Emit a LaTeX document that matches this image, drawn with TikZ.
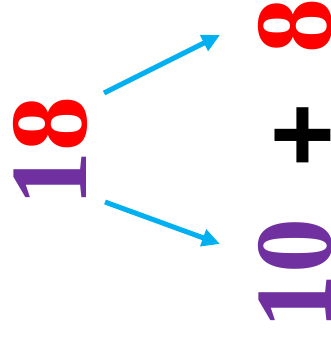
\documentclass[tikz,border=0pt]{standalone}
\usepackage{fontspec}
\setmainfont{Liberation Serif}
\newfontfamily\plusfont{Liberation Sans}
\usetikzlibrary{arrows.meta}
\definecolor{cyanarrow}{HTML}{00B0F0}
\definecolor{numred}{HTML}{FF0000}
\definecolor{numpurple}{HTML}{7030A0}
\tikzset{
  bignum/.style={rotate=90, anchor=base, inner sep=0pt, font=\fontsize{110}{110}\selectfont\bfseries},
  splitarrow/.style={draw=cyanarrow, line width=5pt, -{Triangle[length=18pt,width=17pt]}}
}
\begin{document}
\begin{tikzpicture}[x=1pt,y=1pt]
\useasboundingbox (0,0) rectangle (330,339);
\clip (0,0) rectangle (330,339);
\node[bignum] (whole) at (86,187) {\textcolor{numpurple}{1}\textcolor{numred}{8}};
\node[bignum, text=numred] (eight) at (331,313) {8};
\node[bignum, anchor=center, text=black, font=\fontsize{110}{110}\selectfont\plusfont\bfseries] (plus) at (307.5,204) {+};
\node[bignum, text=numpurple] (ten) at (331,65) {10};
\coordinate (s1) at (104,246);
\coordinate (e1) at (220,304);
\coordinate (s2) at (105,137);
\coordinate (e2) at (220,95);
\draw[splitarrow] (s1) -- (e1);
\draw[splitarrow] (s2) -- (e2);
\end{tikzpicture}
\end{document}
